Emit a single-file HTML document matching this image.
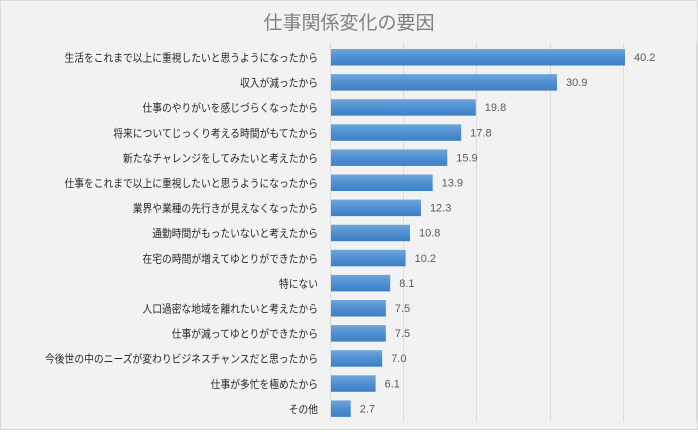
<!DOCTYPE html>
<html><head><meta charset="utf-8"><style>
body{margin:0;width:698px;height:430px;overflow:hidden;background:#fff;font-family:"Liberation Sans","Noto Sans CJK JP",sans-serif}
</style></head><body>
<svg width="698" height="430" xmlns="http://www.w3.org/2000/svg">
<defs><linearGradient id="g" x1="0" y1="0" x2="0" y2="1"><stop offset="0" stop-color="#6fa6dc"/><stop offset="0.5" stop-color="#4f8fd2"/><stop offset="1" stop-color="#3f7fc4"/></linearGradient></defs>
<rect x="0.5" y="0.5" width="697" height="429" fill="#f2f2f2" stroke="#d9d9d9"/>
<text x="349" y="29" text-anchor="middle" font-size="19" fill="#808080" font-family="Liberation Sans,Noto Sans CJK JP,sans-serif">仕事関係変化の要因</text>
<g stroke="#dcdcdc" stroke-width="1">
<line x1="330.5" y1="43" x2="330.5" y2="422"/>
<line x1="403.5" y1="43" x2="403.5" y2="422"/>
<line x1="476.5" y1="43" x2="476.5" y2="422"/>
<line x1="550.5" y1="43" x2="550.5" y2="422"/>
<line x1="623.5" y1="43" x2="623.5" y2="422"/>
<line x1="696.5" y1="43" x2="696.5" y2="422"/>
</g>
<g id="bars"></g>
</svg>
<script>
var d=[["生活をこれまで以上に重視したいと思うようになったから",40.2],["収入が減ったから",30.9],["仕事のやりがいを感じづらくなったから",19.8],["将来についてじっくり考える時間がもてたから",17.8],["新たなチャレンジをしてみたいと考えたから",15.9],["仕事をこれまで以上に重視したいと思うようになったから",13.9],["業界や業種の先行きが見えなくなったから",12.3],["通勤時間がもったいないと考えたから",10.8],["在宅の時間が増えてゆとりができたから",10.2],["特にない",8.1],["人口過密な地域を離れたいと考えたから",7.5],["仕事が減ってゆとりができたから",7.5],["今後世の中のニーズが変わりビジネスチャンスだと思ったから",7.0],["仕事が多忙を極めたから",6.1],["その他",2.7]];
var g=document.getElementById('bars'),s='';
d.forEach(function(r,i){var y=49+i*25.1,w=r[1]*7.313,tl=(r[0].length*9.75).toFixed(1);
s+='<rect x="331" y="'+y+'" width="'+w+'" height="16.5" fill="url(#g)"/>';
s+='<text x="318" y="'+(y+12.5)+'" text-anchor="end" fill="#262626" font-size="11" textLength="'+tl+'" lengthAdjust="spacingAndGlyphs">'+r[0]+'</text>';
s+='<text x="'+(331+w+9)+'" y="'+(y+12)+'" fill="#595959" font-size="11">'+r[1].toFixed(1)+'</text>';});
g.innerHTML=s;
</script>
</body></html>
